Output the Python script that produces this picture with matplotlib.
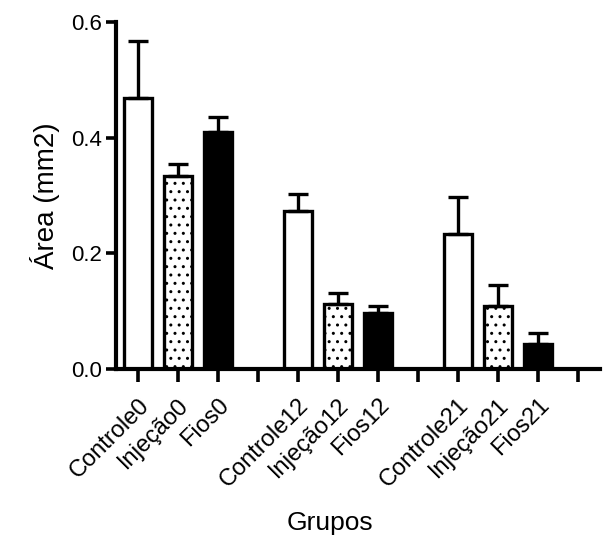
import matplotlib.pyplot as plt

plt.rcParams["font.family"] = ["Liberation Sans", "DejaVu Sans"]
plt.rcParams["hatch.linewidth"] = 1.0

# data
labels = ["Controle0", "Injeção0", "Fios0", "",
          "Controle12", "Injeção12", "Fios12", "",
          "Controle21", "Injeção21", "Fios21", ""]
means = [0.469, 0.334, 0.410, None,
         0.273, 0.112, 0.097, None,
         0.233, 0.109, 0.043, None]
errs = [0.098, 0.021, 0.026, None,
        0.030, 0.019, 0.012, None,
        0.065, 0.036, 0.019, None]
kinds = ["open", "dots", "solid", None] * 3

fig = plt.figure(figsize=(6.03, 5.38), dpi=100)
ax = fig.add_axes([0.192, 0.314, 0.803, 0.645])

for i, (m, e, k) in enumerate(zip(means, errs, kinds)):
    if m is None:
        continue
    face = "black" if k == "solid" else "white"
    ax.bar(i, m, width=0.7, color=face, edgecolor="black", linewidth=2.4,
           hatch=".." if k == "dots" else None, zorder=2)
    ax.errorbar(i, m, yerr=[[0], [e]], fmt="none", ecolor="black",
                elinewidth=2.4, capsize=7, capthick=2.4, zorder=3)

ax.set_xlim(-0.55, 11.55)
ax.set_ylim(0, 0.6)
ax.set_yticks([0.0, 0.2, 0.4, 0.6])
ax.set_yticklabels(["0.0", "0.2", "0.4", "0.6"], fontsize=16)
ax.set_xticks(range(len(labels)))
ax.set_xticklabels(labels, rotation=45, ha="right", rotation_mode="anchor",
                   fontsize=17)

for s in ["top", "right"]:
    ax.spines[s].set_visible(False)
for s in ["left", "bottom"]:
    ax.spines[s].set_linewidth(3)
ax.tick_params(width=2.6, length=7, pad=3)
ax.tick_params(axis="x", length=9, pad=9)

ax.set_ylabel("Área (mm2)", fontsize=20, labelpad=8)
ax.set_xlabel("Grupos", fontsize=19)
ax.xaxis.set_label_coords(0.442, -0.41)

plt.savefig("out.png", dpi=100)
